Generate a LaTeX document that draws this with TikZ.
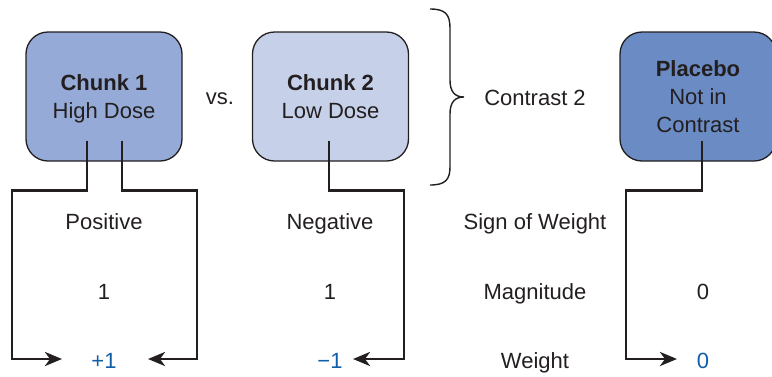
\documentclass[tikz,border=0pt]{standalone}
\usepackage{fontspec}
\setmainfont{Liberation Sans}
\usetikzlibrary{calc,arrows.meta}
\definecolor{txt}{HTML}{231F20}
\definecolor{fillA}{RGB}{149,170,214}
\definecolor{fillB}{RGB}{198,208,233}
\definecolor{fillC}{RGB}{106,139,196}
\definecolor{wblue}{RGB}{17,94,168}
\tikzset{
  box/.style={draw=txt, line width=1.3pt, rounded corners=22pt, minimum width=156pt,
    minimum height=129pt, inner sep=0pt, align=center, text=txt,
    font=\fontsize{22}{28}\selectfont},
  lbl/.style={inner sep=0pt, text=txt, anchor=base, font=\fontsize{22}{26}\selectfont},
  wlbl/.style={lbl, text=wblue},
  conn/.style={draw=txt, line width=2.8pt, -{Stealth[length=17pt,width=14pt,inset=5pt]}},
}
\begin{document}
\begin{tikzpicture}[x=1pt,y=-1pt]
\useasboundingbox (0,0) rectangle (772,376);
\node[box, fill=fillA] (c1) at (104,96.5) {\raisebox{-2.5pt}[\height][\depth]{\begin{tabular}{@{}c@{}}\textbf{Chunk 1}\\[0pt]High Dose\end{tabular}}};
\node[box, fill=fillB] (c2) at (330.5,96.5) {\raisebox{-2.5pt}[\height][\depth]{\begin{tabular}{@{}c@{}}\textbf{Chunk 2}\\[0pt]Low Dose\end{tabular}}};
\node[box, fill=fillC] (c3) at (698,96.5) {\textbf{Placebo}\\Not in\\Contrast};
\node[lbl] (vs) at (220,104) {vs.};
\node[lbl] (ct) at (535,105) {Contrast 2};
% brace
\draw[draw=txt, line width=1.4pt] (430,9) .. controls (445,9) and (450,14) .. (450,28)
  -- (450,80) .. controls (450,92) and (455,97) .. (464,97)
  .. controls (455,97) and (450,102) .. (450,114)
  -- (450,167) .. controls (450,180) and (445,185) .. (430,185);
% rows
\node[lbl] (s1) at (104,229) {Positive};
\node[lbl] (s2) at (330,229) {Negative};
\node[lbl] (sh) at (535,229) {Sign of Weight};
\node[lbl] (m1) at (104,299) {1};
\node[lbl] (m2) at (330,299) {1};
\node[lbl] (mh) at (535,299) {Magnitude};
\node[lbl] (m3) at (703,299) {0};
\node[lbl] (wh) at (535,368) {Weight};
\node[wlbl] (w1t) at (104,368) {+1};
\node[wlbl] (w2t) at (330,368) {−1};
\node[wlbl] (w3t) at (703,368) {0};
\coordinate (w1l) at (62,359);
\coordinate (w1r) at (148,359);
\coordinate (w2r) at (353,359);
\coordinate (w3l) at (677,359);
% connectors
\draw[conn] (c1.south) ++(-17,-21) -- ++(0,50) -- ++(-75,0) |- (w1l);
\draw[conn] (c1.south) ++(18,-21) -- ++(0,50) -- ++(75,0) |- (w1r);
\draw[conn] (c2.south) ++(-1.5,-21) -- ++(0,50) -- ++(75,0) |- (w2r);
\draw[conn] (c3.south) ++(4,-21) -- ++(0,50) -- ++(-76,0) |- (w3l);
\end{tikzpicture}
\end{document}
